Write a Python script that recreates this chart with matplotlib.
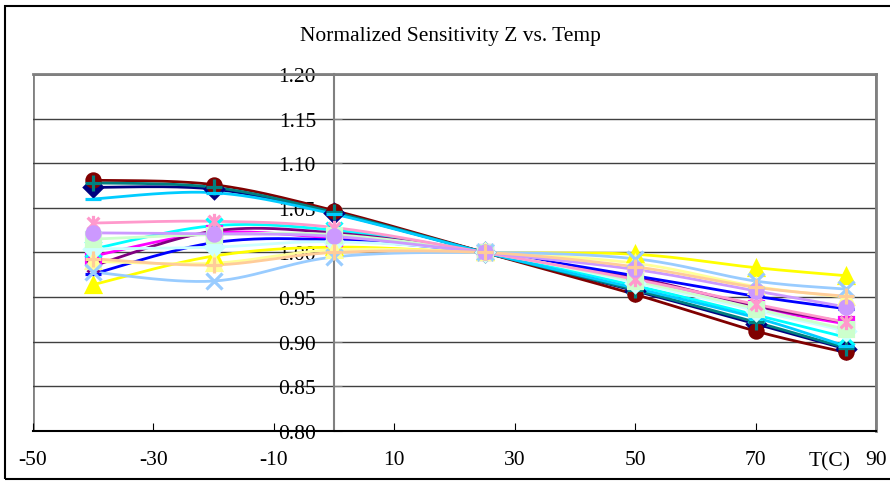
import numpy as np
import matplotlib
matplotlib.use("Agg")
import matplotlib.pyplot as plt
from matplotlib.patches import Rectangle
from matplotlib.path import Path

plt.rcParams['font.family'] = ['Liberation Serif', 'DejaVu Serif']

temps = [-40, -20, 0, 25, 50, 70, 85]

# one list per series, Excel default colour order
s_navy      = [1.073, 1.071, 1.044, 1.000, 0.957, 0.920, 0.892]
s_magenta   = [0.996, 1.022, 1.016, 1.000, 0.968, 0.938, 0.920]
s_yellow    = [0.964, 0.996, 1.006, 1.000, 0.998, 0.983, 0.974]
s_cyan      = [1.004, 1.030, 1.025, 1.000, 0.963, 0.930, 0.905]
s_purple    = [0.985, 1.024, 1.022, 1.000, 0.972, 0.940, 0.922]
s_maroon    = [1.081, 1.076, 1.047, 1.000, 0.953, 0.912, 0.888]
s_teal      = [1.078, 1.073, 1.045, 1.000, 0.958, 0.922, 0.893]
s_blue      = [0.976, 1.011, 1.014, 1.000, 0.974, 0.951, 0.937]
s_skyblue   = [1.060, 1.067, 1.043, 1.000, 0.960, 0.927, 0.895]
s_lturq     = [1.004, 1.006, 1.012, 1.000, 0.966, 0.935, 0.912]
s_lgreen    = [1.015, 1.020, 1.020, 1.000, 0.968, 0.937, 0.914]
s_lyellow   = [0.990, 0.988, 1.003, 1.000, 0.988, 0.962, 0.950]
s_paleblue  = [0.978, 0.968, 0.995, 1.000, 0.993, 0.968, 0.959]
s_rose      = [1.033, 1.035, 1.028, 1.000, 0.970, 0.942, 0.922]
s_lavender  = [1.022, 1.021, 1.018, 1.000, 0.981, 0.957, 0.939]
s_tan       = [0.993, 0.986, 1.000, 1.000, 0.984, 0.961, 0.951]

series = [s_navy, s_magenta, s_yellow, s_cyan, s_purple, s_maroon, s_teal, s_blue,
          s_skyblue, s_lturq, s_lgreen, s_lyellow, s_paleblue, s_rose, s_lavender, s_tan]
colors = ['#000080', '#FF00FF', '#FFFF00', '#00FFFF', '#800080', '#800000', '#008080', '#0000FF',
          '#00CCFF', '#CCFFFF', '#CCFFCC', '#FFFF99', '#99CCFF', '#FF99CC', '#CC99FF', '#FFCC99']

# excel style star: an x with a vertical bar through it
star = Path([(-1, -1), (1, 1), (-1, 1), (1, -1), (0, -1.3), (0, 1.3)],
            [Path.MOVETO, Path.LINETO, Path.MOVETO, Path.LINETO, Path.MOVETO, Path.LINETO])

markers = ['D', 's', '^', 'x', star, 'o', '+', '_', '_',
           'D', 's', '^', 'x', star, 'o', '+']

x_ticks = [-50, -30, -10, 10, 30, 50, 70, 90]
y_ticks = [0.80, 0.85, 0.90, 0.95, 1.00, 1.05, 1.10, 1.15, 1.20]


def smooth(xs, ys, n=30):
    # excel-like bezier smoothing
    p = np.column_stack([xs, ys]).astype(float)
    pts = [p[0]] + list(p) + [p[-1]]
    out = []
    for i in range(1, len(pts) - 2):
        p0, p1, p2, p3 = pts[i - 1], pts[i], pts[i + 1], pts[i + 2]
        c1 = p1 + (p2 - p0) / 6
        c2 = p2 - (p3 - p1) / 6
        t = np.linspace(0, 1, n)[:, None]
        seg = ((1 - t) ** 3) * p1 + 3 * ((1 - t) ** 2) * t * c1 + 3 * (1 - t) * t ** 2 * c2 + t ** 3 * p2
        out.append(seg if i == 1 else seg[1:])
    out = np.vstack(out)
    return out[:, 0], out[:, 1]


fig = plt.figure(figsize=(8.9, 4.85), dpi=100)
ax = fig.add_axes([33 / 890, 1 - 432 / 485, 843 / 890, 357 / 485])

for vals, c, m in zip(series, colors, markers):
    sx, sy = smooth(temps, vals)
    ax.plot(sx, sy, color=c, lw=2.0, zorder=3)
    if isinstance(m, str) and m in ('o', 'D', 's', '^'):
        ms = 9.5
    else:
        ms = 11
    ax.plot(temps, vals, ls='none', marker=m, color=c, ms=ms, mew=2.3, zorder=4)

ax.set_xlim(-50, 90)
ax.set_ylim(0.80, 1.20)
ax.set_xticks(x_ticks)
ax.set_xticklabels([str(v) for v in x_ticks])
ax.set_yticks(y_ticks)
ax.set_yticklabels([f"{v:.2f}" for v in y_ticks])
ax.yaxis.grid(True, color='#404040', lw=1.0)
ax.set_axisbelow(True)

ax.spines['left'].set_position(('data', 0))
ax.spines['left'].set_color('#808080')
ax.spines['left'].set_linewidth(1.5)
for s in ('top', 'right'):
    ax.spines[s].set_color('#808080')
    ax.spines[s].set_linewidth(2)
ax.spines['bottom'].set_color('black')
ax.spines['bottom'].set_linewidth(1.5)
ax.add_patch(Rectangle((0, 0), 1, 1, transform=ax.transAxes, fill=False,
                       ec='#808080', lw=2, zorder=0.5))

ax.tick_params(axis='y', direction='in', length=6, pad=13, labelsize=15.5, color='#808080')
ax.tick_params(axis='x', direction='in', length=6, pad=14, labelsize=15.5, color='black')

ax.text(82.3, -0.085, 'T(C)', transform=ax.get_xaxis_transform(), ha='center', va='center',
        fontsize=15.5)

fig.text(450 / 890, 1 - 37 / 485, 'Normalized Sensitivity Z vs. Temp', ha='center', va='center',
         fontsize=15.5)

fig.patches.append(Rectangle((5 / 890, 1 - 480 / 485), 900 / 890, 473 / 485,
                             transform=fig.transFigure, fill=False, ec='black', lw=1.5))

fig.savefig('out.png', dpi=100)
